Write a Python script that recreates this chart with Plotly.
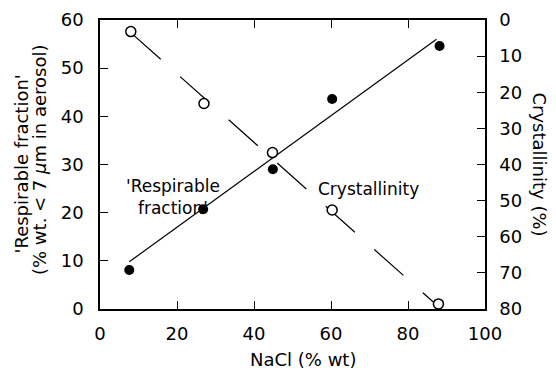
import plotly.graph_objects as go

# Data
nacl_resp = [7.6, 26.8, 44.9, 60.3, 88.2]
respirable = [8.1, 20.7, 29.0, 43.6, 54.6]

nacl_cryst = [8.0, 27.0, 44.8, 60.3, 87.9]
crystallinity = [3.2, 23.1, 36.7, 52.6, 78.6]

# fitted lines (endpoints)
fit_resp_x = [7.6, 87.4]
fit_resp_y = [9.8, 56.0]
fit_cryst_x = [8.2, 86.5]
fit_cryst_y = [3.7, 78.0]

x_ticks = [0, 20, 40, 60, 80, 100]
y_ticks = [0, 10, 20, 30, 40, 50, 60]
y2_ticks = [0, 10, 20, 30, 40, 50, 60, 70, 80]

FONT = "DejaVu Sans, Liberation Sans, Arial, sans-serif"

fig = go.Figure()
fig.add_trace(go.Scatter(x=fit_resp_x, y=fit_resp_y, mode="lines",
                         line=dict(color="black", width=1.2), showlegend=False))
fig.add_trace(go.Scatter(x=fit_cryst_x, y=fit_cryst_y, mode="lines", yaxis="y2",
                         line=dict(color="black", width=1.2, dash="39px,26px"), showlegend=False))
fig.add_trace(go.Scatter(x=nacl_resp, y=respirable, mode="markers",
                         marker=dict(symbol="circle", size=10, color="black"), showlegend=False))
fig.add_trace(go.Scatter(x=nacl_cryst, y=crystallinity, mode="markers", yaxis="y2",
                         marker=dict(symbol="circle", size=10, color="white",
                                     line=dict(color="black", width=1.5)), showlegend=False))

axis_common = dict(showgrid=False, zeroline=False, ticks="inside", ticklen=8,
                   tickwidth=1.2, tickcolor="black", showline=True, linecolor="black",
                   linewidth=1.5, automargin=False,
                   tickfont=dict(family=FONT, size=18, color="black"))

fig.update_layout(
    width=556, height=372,
    margin=dict(l=100, r=71, t=20, b=63),
    paper_bgcolor="white", plot_bgcolor="white",
    font=dict(family=FONT, color="black"),
    xaxis=dict(range=[0, 100], tickvals=x_ticks, mirror="ticks", ticklabelstandoff=8,
               **axis_common),
    yaxis=dict(range=[0, 60], tickvals=y_ticks, ticklabelstandoff=11, **axis_common),
    yaxis2=dict(range=[80, 0], tickvals=y2_ticks, overlaying="y", side="right",
                ticklabelstandoff=9, **axis_common),
    annotations=[
        dict(text="'Respirable fraction'", xref="paper", yref="paper",
             x=(21 - 100) / 385, y=0.5, xanchor="center", yanchor="middle",
             textangle=-90, showarrow=False, font=dict(family=FONT, size=18)),
        dict(text="(% wt. < 7 <i>μ</i>m in aerosol)", xref="paper", yref="paper",
             x=(39 - 100) / 385, y=(309 - 160) / 289, xanchor="center", yanchor="middle",
             textangle=-90, showarrow=False, font=dict(family=FONT, size=18)),
        dict(text="Crystallinity (%)", xref="paper", yref="paper",
             x=(539 - 100) / 385, y=0.5, xanchor="center", yanchor="middle",
             textangle=90, showarrow=False, font=dict(family=FONT, size=18)),
        dict(text="NaCl (% wt)", xref="paper", yref="paper",
             x=0.526, y=(309 - 359) / 289, xanchor="center", yanchor="middle",
             showarrow=False, font=dict(family=FONT, size=18)),
        dict(text="'Respirable<br>fraction'", xref="x", yref="y", x=19, y=23.2,
             showarrow=False, font=dict(family=FONT, size=17)),
        dict(text="Crystallinity", xref="x", yref="y", x=69.7, y=24.9,
             showarrow=False, font=dict(family=FONT, size=17)),
    ],
)

fig.write_html("out.html", config={"displayModeBar": False},
               post_script="document.body.style.margin='0';")
